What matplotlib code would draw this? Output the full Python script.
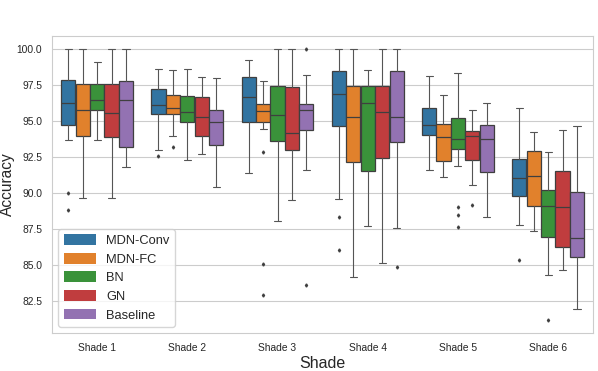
import matplotlib
matplotlib.use("Agg")
import matplotlib.pyplot as plt
import matplotlib.patches as patches
import seaborn as sns
import numpy as np

shades = ["Shade 1", "Shade 2", "Shade 3", "Shade 4", "Shade 5", "Shade 6"]
methods = ["MDN-Conv", "MDN-FC", "BN", "GN", "Baseline"]
colors = ["#3274a1", "#e1812c", "#3a923a", "#c03d3e", "#9372b2"]

# (whisker low, q1, median, q3, whisker high) per shade
mdn_conv = [(93.72, 94.72, 96.28, 97.86, 100.0), (92.98, 95.51, 96.14, 97.26, 98.65),
            (91.40, 94.98, 96.70, 98.09, 99.26), (89.58, 94.70, 96.91, 98.47, 100.0),
            (91.63, 94.05, 94.74, 95.93, 98.14), (87.79, 89.84, 91.05, 92.40, 95.93)]
mdn_fc = [(89.65, 94.00, 95.81, 97.60, 100.0), (93.95, 95.53, 95.91, 96.84, 98.56),
          (94.47, 94.93, 95.70, 96.23, 97.79), (84.21, 92.16, 95.30, 97.49, 100.0),
          (91.14, 92.21, 93.91, 94.84, 96.86), (87.37, 89.12, 91.23, 92.91, 94.28)]
bn = [(93.72, 95.81, 96.51, 97.60, 99.12), (92.28, 94.93, 95.67, 96.79, 98.65),
      (88.07, 93.63, 95.44, 97.49, 100.0), (87.72, 91.58, 96.28, 97.49, 98.58),
      (91.91, 93.05, 93.77, 95.26, 98.37), (84.30, 86.98, 89.12, 90.23, 92.86)]
gn = [(89.65, 93.88, 95.58, 97.60, 100.0), (92.74, 93.95, 95.30, 96.67, 98.07),
      (89.53, 92.98, 94.19, 97.40, 100.0), (85.16, 92.44, 95.67, 97.44, 100.0),
      (90.56, 92.33, 93.95, 94.30, 95.81), (84.65, 86.28, 89.02, 91.56, 94.42)]
baseline = [(91.81, 93.19, 96.47, 97.79, 100.0), (90.47, 93.33, 94.98, 95.81, 98.00),
            (91.63, 94.37, 95.81, 96.23, 98.26), (87.58, 93.60, 95.30, 98.47, 100.0),
            (88.33, 91.51, 93.77, 94.77, 96.28), (81.95, 85.58, 86.86, 90.09, 94.65)]

# outliers per shade
mdn_conv_out = [[90.0, 88.84], [92.6], [], [88.37, 86.07], [], [85.37]]
mdn_fc_out = [[], [93.21], [92.88, 85.07, 82.95], [], [], []]
bn_out = [[], [], [], [], [89.02, 88.49, 87.67], [81.21]]
gn_out = [[], [], [], [], [89.21], []]
baseline_out = [[], [], [100.0, 83.65], [84.88], [], []]

sns.set_style("whitegrid")
plt.rcParams["font.family"] = ["Liberation Sans", "DejaVu Sans"]

fig = plt.figure(figsize=(5.98, 3.71), dpi=100)
ax = fig.add_axes([0.087, 0.102, 0.905, 0.801])

summaries = [mdn_conv, mdn_fc, bn, gn, baseline]
outliers = [mdn_conv_out, mdn_fc_out, bn_out, gn_out, baseline_out]
edge = "#3f3f3f"
width = 0.8 / len(methods)
for j, (summary, outs, color) in enumerate(zip(summaries, outliers, colors)):
    stats = []
    for (lo, q1, med, q3, hi), o in zip(summary, outs):
        stats.append(dict(whislo=lo, q1=q1, med=med, q3=q3, whishi=hi, fliers=o))
    pos = np.arange(len(shades)) - 0.4 + width * (j + 0.5)
    ax.bxp(stats, positions=pos, widths=width * 0.98, patch_artist=True,
           showfliers=True,
           boxprops=dict(facecolor=color, edgecolor=edge, linewidth=0.9),
           medianprops=dict(color=edge, linewidth=0.9),
           whiskerprops=dict(color="#555555", linewidth=0.8),
           capprops=dict(color="#555555", linewidth=0.8),
           flierprops=dict(marker="d", markersize=1.6, markerfacecolor=edge,
                           markeredgecolor=edge))

ax.set_xlim(-0.5, len(shades) - 0.5)
ax.set_xticks(range(len(shades)))
ax.set_xticklabels(shades, fontsize=7.4)
ax.tick_params(axis="y", labelsize=7.4)
ax.xaxis.grid(False)
ax.set_axisbelow(True)
ax.set_xlabel("Shade", fontsize=11.5, labelpad=2)
ax.set_ylabel("Accuracy", fontsize=11.2, labelpad=1)
for sp in ax.spines.values():
    sp.set_color(".8")

handles = [patches.Patch(facecolor=c, edgecolor="none", label=m)
           for c, m in zip(colors, methods)]
ax.legend(handles=handles, loc="lower left", fontsize=9.3, frameon=True,
          edgecolor=".8", handlelength=2.5, handleheight=0.9,
          labelspacing=0.45)

fig.savefig("out.png", dpi=100)
